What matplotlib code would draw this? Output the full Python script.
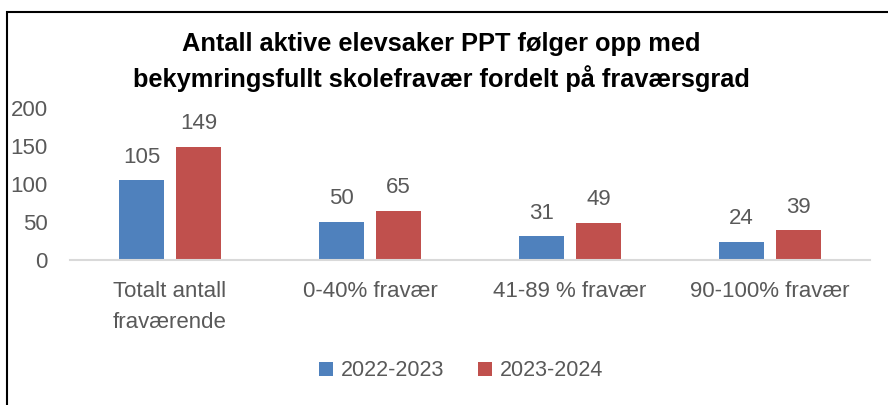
import matplotlib.pyplot as plt
import numpy as np
from matplotlib.patches import Rectangle

# data
categories = ['Totalt antall\nfraværende', '0-40% fravær', '41-89 % fravær', '90-100% fravær']
v_2022 = [105, 50, 31, 24]
v_2023 = [149, 65, 49, 39]
series_names = ['2022-2023', '2023-2024']

plt.rcParams['font.family'] = ['Liberation Sans', 'DejaVu Sans']
grey = '#595959'
fs = 16

fig = plt.figure(figsize=(8.88, 4.05), dpi=100)
ax = fig.add_axes([70 / 888, 1 - 260 / 405, 800 / 888, 152 / 405])

x = np.arange(len(categories))
w = 0.225
off = 0.1425
b1 = ax.bar(x - off, v_2022, w, color='#4F81BD', label=series_names[0])
b2 = ax.bar(x + off, v_2023, w, color='#C0504D', label=series_names[1])

for bars in (b1, b2):
    for r in bars:
        ax.annotate(str(int(r.get_height())), (r.get_x() + r.get_width() / 2, r.get_height()),
                    xytext=(0, 9), textcoords='offset points', ha='center', va='bottom',
                    fontsize=fs, color=grey)

ax.set_xlim(-0.5, len(categories) - 0.5)
ax.set_ylim(0, 200)
ax.set_yticks([0, 50, 100, 150, 200])
ax.set_xticks(x)
ax.set_xticklabels(categories, linespacing=1.62)
ax.tick_params(axis='both', length=0, labelsize=fs, labelcolor=grey)
ax.tick_params(axis='y', pad=16)
ax.tick_params(axis='x', pad=15)
for s in ['top', 'right', 'left']:
    ax.spines[s].set_visible(False)
ax.spines['bottom'].set_color('#D9D9D9')
ax.spines['bottom'].set_linewidth(1.5)

fig.text(0.497, 1 - 62 / 405, 'Antall aktive elevsaker PPT følger opp med\nbekymringsfullt skolefravær fordelt på fraværsgrad',
         ha='center', va='center', fontsize=18.3, fontweight='bold', linespacing=1.4)

fig.legend(handles=[b1, b2], loc='center', bbox_to_anchor=(461 / 888, 1 - 371 / 405), ncol=2,
           frameon=False, fontsize=15.5, labelcolor=grey, handlelength=0.65, handleheight=0.65,
           handletextpad=0.35, columnspacing=1.6)

# outer chart border
fig.patches.append(Rectangle((7 / 888, -0.1), 1.2, 1 - 12 / 405 + 0.1, transform=fig.transFigure,
                             fill=False, edgecolor='black', linewidth=1.5))

fig.savefig('out.png', dpi=100)
